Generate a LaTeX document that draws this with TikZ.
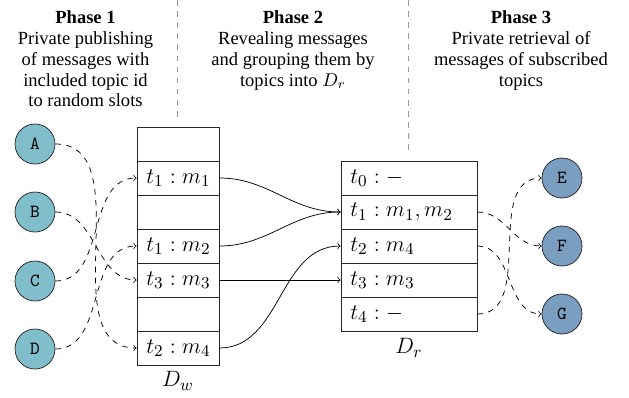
\documentclass[tikz,border=0pt]{standalone}
\usepackage{fontspec}
\setmainfont{Liberation Serif}
\definecolor{pubc}{RGB}{128,190,204}
\definecolor{subc}{RGB}{122,158,192}
\newcommand{\cellm}[1]{\mbox{$#1$}}
\begin{document}
\begin{tikzpicture}[x=0.54pt,y=-0.54pt,
  cellbase/.style={draw=black!85, minimum height=18.36pt, inner ysep=0pt, inner xsep=5pt, align=left, font=\fontsize{12.4}{14}\selectfont},
  cellw/.style={cellbase, text width=34.28pt},
  cellr/.style={cellbase, text width=63.44pt},
  pub/.style={circle, draw=black!85, fill=pubc, minimum size=21.6pt, inner sep=0pt, font=\ttfamily},
  sub/.style={circle, draw=black!85, fill=subc, minimum size=21.6pt, inner sep=0pt, font=\ttfamily},
  head/.style={anchor=north, align=center, inner sep=0pt, font=\fontsize{10}{11.3}\selectfont},
  lbl/.style={font=\fontsize{12.4}{14}\selectfont},
  sep/.style={draw=black!40, dashed},
  dashedarrow/.style={->, dashed},
  solidarrow/.style={->}
]
\useasboundingbox (0,0) rectangle (629,397);

% phase headings
\node[head] (h1) at (85.5,10) {\textbf{Phase 1}\\Private publishing\\of messages with\\included topic id\\to random slots};
\node[head] (h2) at (293,10) {\textbf{Phase 2}\\Revealing messages\\and grouping them by\\topics into $D_r$};
\node[head] (h3) at (521,10) {\textbf{Phase 3}\\Private retrieval of\\messages of subscribed\\topics};

% separators
\coordinate (s1a) at (177,0);
\coordinate (s1b) at (177,120);
\coordinate (s2a) at (408,0);
\coordinate (s2b) at (408,152);
\draw[sep] (s1a) -- (s1b);
\draw[sep] (s2a) -- (s2b);

% publishers
\node[pub] (A) at (35,144) {A};
\node[pub] (B) at (35,212) {B};
\node[pub] (C) at (35,281) {C};
\node[pub] (D) at (35,349) {D};

% D_w
\node[cellw] (w1) at (178,144) {};
\node[cellw] (w2) at (178,178) {\cellm{t_1 : m_1}};
\node[cellw] (w3) at (178,212) {};
\node[cellw] (w4) at (178,246) {\cellm{t_1 : m_2}};
\node[cellw] (w5) at (178,280) {\cellm{t_3 : m_3}};
\node[cellw] (w6) at (178,314) {};
\node[cellw] (w7) at (178,348) {\cellm{t_2 : m_4}};
\node[lbl] (Dw) at (178,381) {$D_w$};

% D_r
\node[cellr] (r0) at (409,178) {\cellm{t_0 : -}};
\node[cellr] (r1) at (409,212) {\cellm{t_1 : m_1, m_2}};
\node[cellr] (r2) at (409,246) {\cellm{t_2 : m_4}};
\node[cellr] (r3) at (409,280) {\cellm{t_3 : m_3}};
\node[cellr] (r4) at (409,314) {\cellm{t_4 : -}};
\node[lbl] (Dr) at (409,348) {$D_r$};

% subscribers
\node[sub] (E) at (562,178) {E};
\node[sub] (F) at (562,246) {F};
\node[sub] (G) at (562,314) {G};

% phase 1 connectors
\draw[dashedarrow] (A) to[out=0,in=180] (w7.west);
\draw[dashedarrow] (B) to[out=0,in=180] (w5.west);
\draw[dashedarrow] (C) to[out=0,in=180] (w2.west);
\draw[dashedarrow] (D) to[out=0,in=180] (w4.west);

% phase 2 connectors
\draw[solidarrow] (w2.east) to[out=0,in=180] (r1.west);
\draw[solidarrow] (w4.east) to[out=0,in=180] (r1.west);
\draw[solidarrow] (w5.east) -- (r3.west);
\draw[solidarrow] (w7.east) to[out=0,in=180] (r2.west);

% phase 3 connectors
\draw[dashedarrow] (r1.east) to[out=0,in=180] (F);
\draw[dashedarrow] (r2.east) to[out=0,in=180] (G);
\draw[dashedarrow] (r4.east) to[out=0,in=180] (E);
\end{tikzpicture}
\end{document}
